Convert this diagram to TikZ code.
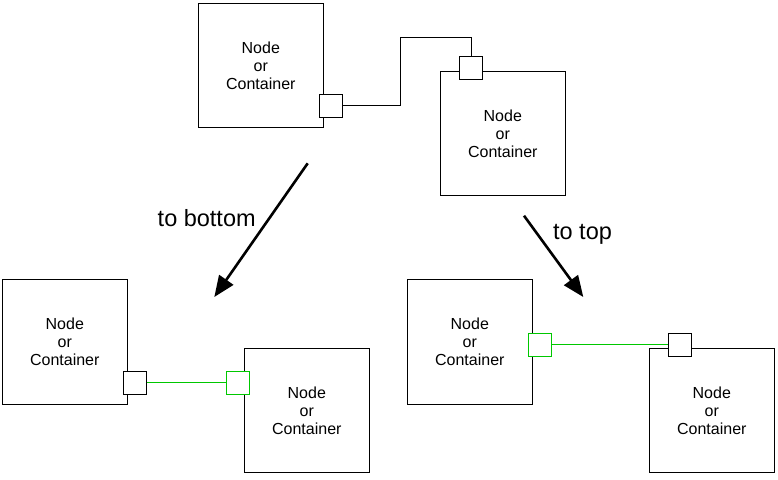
\documentclass[tikz,border=0pt]{standalone}
\usepackage{fontspec}
\setmainfont{Liberation Sans}
\usetikzlibrary{arrows.meta}
\definecolor{portgreen}{RGB}{0,200,0}
\begin{document}
\begin{tikzpicture}[x=1pt,y=-1pt,
  box/.style={draw=black,line width=1pt,fill=white,minimum width=125pt,minimum height=124.5pt,inner sep=0pt,align=center,font=\fontsize{16pt}{18pt}\selectfont},
  port/.style={draw=black,line width=1pt,fill=white,minimum width=23pt,minimum height=23pt,inner sep=0pt},
  gport/.style={port,draw=portgreen},
  wire/.style={draw=black,line width=1pt},
  gwire/.style={draw=portgreen,line width=1pt},
  bigarrow/.style={draw=black,line width=2.6pt,-{Triangle[length=21pt,width=17pt]}},
  lbl/.style={font=\fontsize{23.5pt}{26pt}\selectfont,inner sep=0pt}]
\useasboundingbox (0,0) rectangle (778,479);
% top
\node[box] (bt1) at (260.8,65.5) {Node\\or\\Container};
\node[box] (bt2) at (502.8,133.3) {Node\\or\\Container};
\node[port] (pt1) at (330.8,105.5) {};
\node[port] (pt2) at (471,68) {};
\coordinate (bend) at (400.5,37.5);
\draw[wire] (pt1.east) -| (bend) -| (pt2.north);
% arrows
\coordinate (a1s) at (307.7,163.3);
\coordinate (a1e) at (214.3,297);
\coordinate (a2s) at (524,215.7);
\coordinate (a2e) at (583.3,297);
\draw[bigarrow] (a1s) -- (a1e);
\draw[bigarrow] (a2s) -- (a2e);
\node[lbl] (l1) at (206.7,218.5) {to bottom};
\node[lbl] (l2) at (582.5,234.5) {to top};
% bottom left
\node[box] (bl1) at (64.8,342.2) {Node\\or\\Container};
\node[box] (bl2) at (306.8,410.7) {Node\\or\\Container};
\node[port] (pl1) at (134.8,382.5) {};
\node[gport] (pl2) at (237.5,382.5) {};
\draw[gwire] (pl1.east) -- (pl2.west);
% bottom right
\node[box] (br1) at (469.8,342.2) {Node\\or\\Container};
\node[box] (br2) at (711.8,410.7) {Node\\or\\Container};
\node[gport] (pr1) at (540,344.5) {};
\node[port] (pr2) at (679.8,344.5) {};
\draw[gwire] (pr1.east) -- (pr2.west);
\end{tikzpicture}
\end{document}
